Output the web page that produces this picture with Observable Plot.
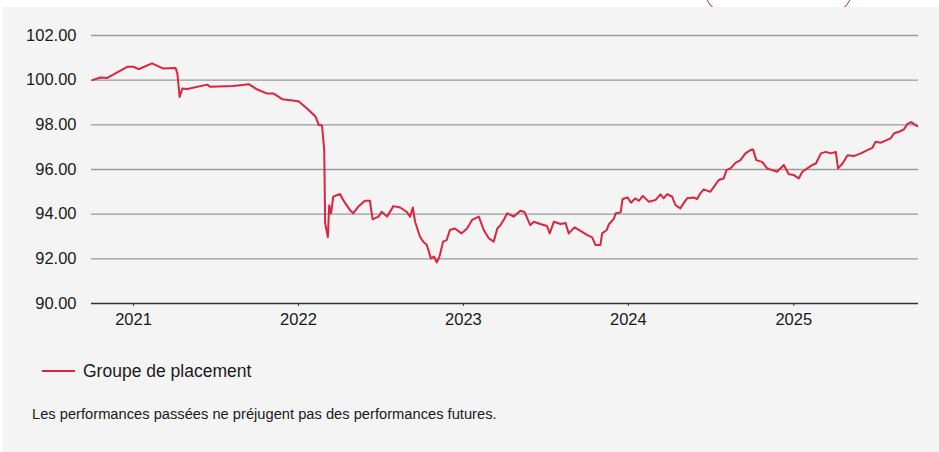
<!DOCTYPE html>
<html><head><meta charset="utf-8">
<script src="https://cdn.jsdelivr.net/npm/d3@7"></script>
<script src="https://cdn.jsdelivr.net/npm/@observablehq/plot@0.6"></script>
<style>
body{margin:0;background:#fff;width:939px;height:452px;overflow:hidden;position:relative;font-family:"Liberation Sans",Arial,sans-serif;color:#1a1a1a;}
#tab{position:absolute;left:706px;top:-23px;width:143px;height:32px;border:1.5px solid #c8203c;border-radius:16px;}
#panel{position:absolute;left:3px;top:7px;right:0;bottom:0;background:#f4f4f4;}
#chart{position:absolute;left:0;top:0;}
#legend{position:absolute;left:39px;top:354px;height:20px;display:flex;align-items:center;font-size:17.5px;}
#legend .sw{width:33px;height:2px;background:#d9253d;margin-right:8px;}
#note{position:absolute;left:29px;top:398px;font-size:14.7px;line-height:18px;}
</style></head>
<body>
<div id="tab"></div>
<div id="panel">
  <div id="chart"></div>
  <div id="legend"><div class="sw"></div><span>Groupe de placement</span></div>
  <div id="note">Les performances passées ne préjugent pas des performances futures.</div>
</div>
<script>
const seriesName = "Groupe de placement";
const dates = [
"2020-10-02","2020-10-20","2020-11-04","2020-12-18","2021-01-01","2021-01-12","2021-02-11","2021-03-08","2021-04-04","2021-04-08",
"2021-04-13","2021-04-19","2021-04-30","2021-06-13","2021-06-20","2021-08-10","2021-09-13","2021-10-02","2021-10-24","2021-11-07",
"2021-11-26","2022-01-01","2022-01-20","2022-02-08","2022-02-15","2022-02-22","2022-02-27","2022-03-01","2022-03-07","2022-03-10",
"2022-03-14","2022-03-19","2022-03-27","2022-04-03","2022-04-10","2022-04-25","2022-05-02","2022-05-13","2022-05-28","2022-06-08",
"2022-06-14","2022-06-27","2022-07-04","2022-07-16","2022-07-30","2022-08-14","2022-08-28","2022-09-05","2022-09-11","2022-09-16",
"2022-09-27","2022-10-04","2022-10-12","2022-10-21","2022-10-28","2022-11-03","2022-11-09","2022-11-17","2022-11-25","2022-12-02",
"2022-12-13","2022-12-28","2023-01-09","2023-01-20","2023-02-04","2023-02-15","2023-02-26","2023-03-09","2023-03-17","2023-03-24",
"2023-03-31","2023-04-08","2023-04-22","2023-05-07","2023-05-16","2023-05-29","2023-06-06","2023-06-20","2023-07-05","2023-07-11",
"2023-07-20","2023-08-04","2023-08-15","2023-08-22","2023-09-04","2023-09-17","2023-10-02","2023-10-13","2023-10-20","2023-10-31",
"2023-11-04","2023-11-14","2023-11-19","2023-11-30","2023-12-04","2023-12-15","2023-12-19","2023-12-30","2024-01-07","2024-01-16",
"2024-01-24","2024-02-02","2024-02-15","2024-03-01","2024-03-12","2024-03-19","2024-03-27","2024-04-07","2024-04-14","2024-04-25",
"2024-05-02","2024-05-10","2024-05-24","2024-06-01","2024-06-08","2024-06-16","2024-06-30","2024-07-11","2024-07-19","2024-07-30",
"2024-08-05","2024-08-14","2024-08-25","2024-09-05","2024-09-16","2024-09-27","2024-10-03","2024-10-10","2024-10-23","2024-11-03",
"2024-11-14","2024-11-25","2024-12-10","2024-12-21","2025-01-01","2025-01-12","2025-01-20","2025-01-31","2025-02-11","2025-02-19",
"2025-03-02","2025-03-13","2025-03-24","2025-04-04","2025-04-09","2025-04-19","2025-04-30","2025-05-14","2025-05-29","2025-06-13",
"2025-06-24","2025-07-01","2025-07-12","2025-07-23","2025-08-03","2025-08-11","2025-08-22","2025-09-02","2025-09-09","2025-09-18",
"2025-09-24","2025-10-01"];
const values = [
100.00,100.12,100.10,100.60,100.60,100.49,100.75,100.52,100.55,100.30,
99.25,99.63,99.60,99.80,99.70,99.74,99.82,99.58,99.40,99.40,
99.15,99.06,98.73,98.36,97.99,97.98,96.87,93.60,92.97,94.40,
94.04,94.78,94.85,94.90,94.63,94.18,94.04,94.33,94.60,94.60,
93.77,93.89,94.11,93.89,94.36,94.30,94.11,93.89,94.30,93.66,
92.99,92.77,92.62,92.02,92.10,91.84,92.10,92.77,92.84,93.29,
93.36,93.14,93.36,93.74,93.89,93.29,92.92,92.77,93.36,93.51,
93.74,94.04,93.89,94.15,94.10,93.51,93.66,93.56,93.47,93.14,
93.66,93.56,93.60,93.14,93.41,93.25,93.06,92.96,92.62,92.62,
93.14,93.29,93.55,93.80,94.04,94.08,94.67,94.75,94.51,94.71,
94.60,94.82,94.56,94.63,94.89,94.71,94.90,94.78,94.41,94.26,
94.48,94.71,94.75,94.68,94.93,95.11,95.00,95.30,95.53,95.60,
95.97,96.05,96.30,96.42,96.72,96.87,96.90,96.42,96.34,96.05,
95.97,95.90,96.20,95.79,95.75,95.60,95.90,96.05,96.20,96.27,
96.72,96.79,96.72,96.79,96.05,96.27,96.64,96.60,96.72,96.87,
96.97,97.24,97.20,97.29,97.39,97.62,97.69,97.80,98.03,98.12,
98.03,97.94];
const yTicks = [90, 92, 94, 96, 98, 100, 102];
const xTickYears = ["2021", "2022", "2023", "2024", "2025"];
const xDomain = ["2020-09-30", "2025-10-04"];

const data = dates.map((d, i) => ({date: new Date(d), value: values[i], series: seriesName}));
const xTicks = xTickYears.map(y => new Date(y + "-01-01"));

const chart = Plot.plot({
  width: 936, height: 330,
  marginLeft: 88, marginRight: 21, marginTop: 28, marginBottom: 34,
  style: {background: "transparent", fontFamily: "'Liberation Sans', Arial, sans-serif", fontSize: "16.5px", color: "#1a1a1a", overflow: "visible"},
  x: {type: "utc", domain: xDomain.map(d => new Date(d))},
  y: {domain: [90, 102]},
  marks: [
    Plot.gridY(yTicks.filter(v => v > 90), {stroke: "#9a9a9a", strokeOpacity: 1, strokeWidth: 1.4}),
    Plot.axisY({ticks: yTicks, tickSize: 0, tickPadding: 15, tickFormat: d => d.toFixed(2), label: null}),
    Plot.axisX({ticks: xTicks, tickSize: 3, tickPadding: 7, tickFormat: d => d3.utcFormat("%Y")(d), label: null, stroke: "#333"}),
    Plot.ruleY([90], {stroke: "#333", strokeWidth: 1.6}),
    Plot.lineY(data, {x: "date", y: "value", stroke: "#d9253d", strokeWidth: 2})
  ]
});
document.getElementById("chart").appendChild(chart);
</script>
</body></html>
